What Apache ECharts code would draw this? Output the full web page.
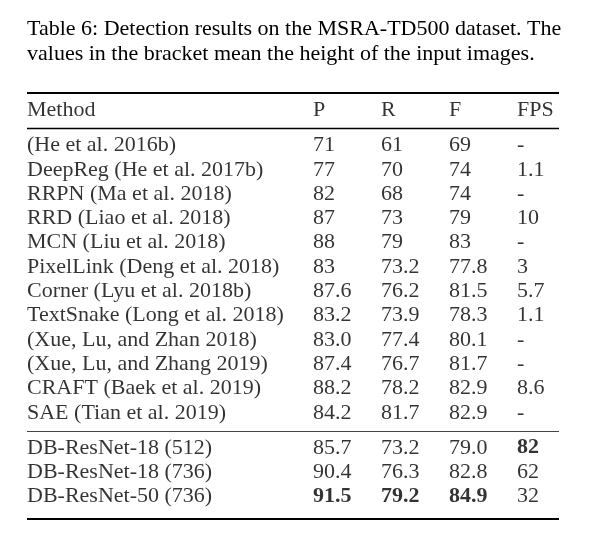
<!DOCTYPE html>
<html><head><meta charset="utf-8">
<script src="https://cdn.jsdelivr.net/npm/echarts@6/dist/echarts.min.js"></script>
<style>html,body{margin:0;padding:0;background:#fff}#c{width:600px;height:542px}</style>
</head><body><div id="c"></div>
<script>
// ---- data ----
const caption = 'Table 6: Detection results on the MSRA-TD500 dataset. The\nvalues in the bracket mean the height of the input images.';
const headers = ['Method', 'P', 'R', 'F', 'FPS'];
const methods = [
  '(He et al. 2016b)', 'DeepReg (He et al. 2017b)', 'RRPN (Ma et al. 2018)', 'RRD (Liao et al. 2018)',
  'MCN (Liu et al. 2018)', 'PixelLink (Deng et al. 2018)', 'Corner (Lyu et al. 2018b)', 'TextSnake (Long et al. 2018)',
  '(Xue, Lu, and Zhan 2018)', '(Xue, Lu, and Zhang 2019)', 'CRAFT (Baek et al. 2019)', 'SAE (Tian et al. 2019)',
  'DB-ResNet-18 (512)', 'DB-ResNet-18 (736)', 'DB-ResNet-50 (736)'
];
const P   = ['71','77','82','87','88','83','87.6','83.2','83.0','87.4','88.2','84.2','85.7','90.4','91.5'];
const R   = ['61','70','68','73','79','73.2','76.2','73.9','77.4','76.7','78.2','81.7','73.2','76.3','79.2'];
const F   = ['69','74','74','79','83','77.8','81.5','78.3','80.1','81.7','82.9','82.9','79.0','82.8','84.9'];
const FPS = ['-','1.1','-','10','-','3','5.7','1.1','-','-','8.6','-','82','62','32'];
const bold = [[12,4],[14,1],[14,2],[14,3]]; // [row, column] cells in bold
const groupBreak = 12; // rows from here belong to the second group

// ---- layout (pixels) ----
const colX = [27, 313, 381, 449, 517];
const headerY = 110.5, firstRowY = 145.5, pitch = 24.3, groupGap = 35 - pitch;
const ruleX = [27, 559];
const font = 'Liberation Serif';
const fs = 22;

function rowY(i){ return firstRowY + i*pitch + (i >= groupBreak ? groupGap : 0); }
const columns = [methods, P, R, F, FPS];
const isBold = (r,c) => bold.some(b => b[0]===r && b[1]===c);

const cells = [];
headers.forEach((h,c) => cells.push({value:[colX[c], headerY], name:h}));
methods.forEach((m,r) => columns.forEach((col,c) => {
  cells.push({value:[colX[c], rowY(r)], name:col[r],
    label:{fontWeight: isBold(r,c) ? 'bold' : 'normal'}});
}));

const topRule = 92.5, headRule = 128.5;
const midRule = (rowY(groupBreak-1) + rowY(groupBreak))/2 + 1;
const botRule = 519;
function rule(y, w, color){
  return [{coord:[ruleX[0], y], lineStyle:{width:w, color:color, type:'solid'}}, {coord:[ruleX[1], y]}];
}

const chart = echarts.init(document.getElementById('c'), null, {renderer:'canvas'});
chart.setOption({
  backgroundColor:'#fff',
  animation:false,
  title:{text:caption, left:27, top:17, padding:0, textStyle:{fontFamily:font, fontSize:fs, fontWeight:'normal', color:'#000', lineHeight:25}},
  grid:{left:0, right:0, top:0, bottom:0},
  xAxis:{type:'value', min:0, max:600, show:false},
  yAxis:{type:'value', min:0, max:542, inverse:true, show:false},
  series:[{
    type:'scatter', symbolSize:0, data:cells,
    label:{show:true, position:[0,0], align:'left', verticalAlign:'middle',
      formatter:p => p.name, fontFamily:font, fontSize:fs, color:'#000'},
    markLine:{silent:true, symbol:'none', label:{show:false}, lineStyle:{type:'solid'},
      data:[rule(topRule,2,'#000'), rule(headRule,1.3,'#000'), rule(midRule,1,'#444'), rule(botRule,2,'#000')]}
  }]
});
</script></body></html>
